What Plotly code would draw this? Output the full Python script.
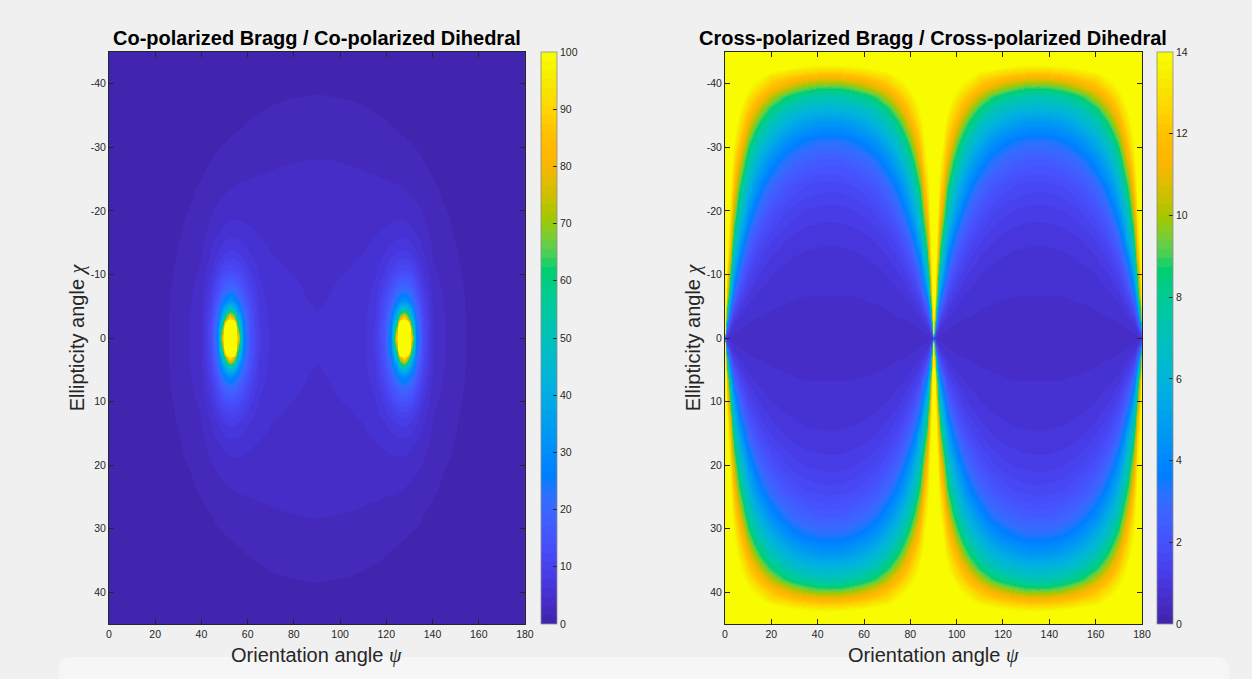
import numpy as np
import plotly.graph_objects as go

# ---------------- colormap (MATLAB parula, 64 levels) ----------------
PARULA64 = [
    (62,38,168),(64,42,180),(66,46,192),(67,50,203),(69,55,213),(70,60,222),(71,65,229),(71,71,235),
    (72,77,240),(72,82,244),(71,88,248),(70,94,251),(69,99,253),(66,105,254),(62,111,255),(56,117,254),
    (50,124,252),(47,129,250),(46,135,247),(45,140,243),(43,145,239),(39,150,235),(37,155,232),(35,160,229),
    (32,165,227),(28,169,223),(24,173,219),(18,177,214),(8,181,208),(1,184,202),(2,186,195),(11,189,189),
    (25,191,182),(36,193,174),(44,196,167),(49,198,159),(55,200,151),(63,202,142),(74,203,132),(87,204,122),
    (100,205,111),(114,205,100),(129,204,89),(143,203,78),(157,201,67),(171,199,57),(185,196,49),(197,194,42),
    (209,191,39),(220,189,41),(230,187,45),(240,186,54),(248,186,61),(254,190,60),(254,195,56),(254,201,52),
    (252,207,48),(250,214,45),(247,220,42),(245,227,39),(245,233,36),(246,239,32),(247,245,27),(249,251,21),
]

# ---------------- left panel: co-pol ratio, one quadrant (psi 0..90, chi 0..45) ----------------
psi_left_q = [0, 12, 22, 28, 34, 40, 44, 47, 49.5, 51, 52.5, 54, 55.5, 58, 61, 65, 70, 76, 83, 90]
chi_left_q = [0, 1.5, 3, 4.5, 6, 8, 10.5, 13, 17, 22, 28, 33, 38, 45]
co_ratio_q = [
    [0.85, 0.92, 1.08, 1.90, 3.00, 4.60, 12.0, 28.5, 92.1, 300, 300, 300, 92.5, 30.1, 14.9, 8.13, 5.71, 5.10, 4.85, 4.75],
    [0.85, 0.92, 1.08, 1.89, 2.99, 4.56, 11.8, 27.2, 72.0, 180, 300, 180, 72.0, 28.7, 14.64, 8.06, 5.70, 5.09, 4.85, 4.74],
    [0.85, 0.92, 1.08, 1.87, 2.96, 4.45, 11.2, 23.9, 50.0, 80.0, 98.0, 80.0, 50.0, 25.3, 13.93, 7.85, 5.64, 5.06, 4.83, 4.72],
    [0.85, 0.92, 1.07, 1.84, 2.91, 4.28, 10.4, 20.0, 34.0, 45.0, 50.0, 45.0, 34.0, 21.2, 12.92, 7.55, 5.57, 5.01, 4.80, 4.67],
    [0.85, 0.92, 1.06, 1.80, 2.84, 4.06, 9.5, 16.5, 24.5, 28.5, 30.5, 28.5, 24.8, 17.5, 11.79, 7.17, 5.45, 4.94, 4.76, 4.60],
    [0.85, 0.92, 1.06, 1.71, 2.72, 3.75, 7.8, 12.8, 17.0, 18.9, 19.7, 19.1, 17.4, 13.7, 9.73, 6.62, 5.28, 4.85, 4.69, 4.50],
    [0.85, 0.92, 1.05, 1.60, 2.53, 3.35, 6.1, 9.2, 11.6, 12.4, 12.7, 12.6, 12.0, 10.05, 7.70, 5.95, 5.02, 4.72, 4.58, 4.35],
    [0.85, 0.92, 1.03, 1.45, 2.32, 3.00, 4.9, 6.6, 7.82, 8.31, 8.54, 8.49, 8.18, 7.34, 6.29, 5.33, 4.73, 4.52, 4.43, 4.20],
    [0.85, 0.91, 1.01, 1.14, 1.92, 2.55, 3.6, 4.35, 4.88, 5.09, 5.22, 5.27, 5.24, 5.08, 4.80, 4.49, 4.25, 4.15, 4.10, 3.95],
    [0.85, 0.89, 0.97, 1.07, 1.35, 1.95, 2.55, 2.95, 3.22, 3.35, 3.45, 3.53, 3.58, 3.63, 3.63, 3.63, 3.60, 3.65, 3.65, 3.60],
    [0.85, 0.87, 0.94, 0.99, 1.08, 1.19, 1.55, 1.80, 2.00, 2.11, 2.20, 2.29, 2.36, 2.46, 2.62, 2.80, 2.95, 3.05, 3.12, 3.15],
    [0.85, 0.86, 0.91, 0.95, 1.00, 1.06, 1.10, 1.12, 1.13, 1.23, 1.32, 1.41, 1.48, 1.60, 1.78, 1.98, 2.20, 2.35, 2.45, 2.50],
    [0.85, 0.85, 0.89, 0.92, 0.95, 0.98, 1.00, 1.01, 1.02, 1.02, 1.02, 1.02, 1.02, 1.01, 1.00, 1.05, 1.30, 1.45, 1.55, 1.60],
    [0.85, 0.84, 0.87, 0.88, 0.90, 0.92, 0.93, 0.93, 0.93, 0.93, 0.93, 0.93, 0.93, 0.93, 0.93, 0.95, 0.93, 0.91, 0.90, 0.90],
]

# ---------------- right panel: cross-pol ratio, one quadrant (psi 0..45, chi 0..45) ----------------
psi_right_q = [0, 0.5, 1, 2, 3, 4, 6, 8, 10, 13, 16, 20, 25, 30, 35, 40, 45]
chi_right_q = [0, 1, 2, 3, 5, 7, 10, 13, 16, 20, 24, 28, 31, 34, 36, 38, 39.5, 41, 42.5, 44, 45]
cross_ratio_q = [
    [0.6, 0.6, 0.6, 0.6, 0.6, 0.6, 0.6, 0.6, 0.6, 0.6, 0.6, 0.6, 0.6, 0.6, 0.6, 0.6, 0.6],
    [15.5, 3.49, 1.44, 0.82, 0.70, 0.66, 0.63, 0.61, 0.61, 0.61, 0.60, 0.60, 0.60, 0.60, 0.60, 0.60, 0.60],
    [15.5, 7.31, 3.49, 1.45, 0.99, 0.82, 0.70, 0.66, 0.64, 0.62, 0.62, 0.61, 0.61, 0.61, 0.61, 0.60, 0.60],
    [15.5, 10.17, 5.85, 2.39, 1.45, 1.09, 0.83, 0.73, 0.68, 0.65, 0.64, 0.62, 0.62, 0.61, 0.61, 0.61, 0.61],
    [15.5, 12.83, 8.82, 4.73, 2.77, 1.91, 1.22, 0.96, 0.83, 0.74, 0.70, 0.67, 0.65, 0.64, 0.63, 0.63, 0.63],
    [15.5, 13.95, 11.33, 6.73, 4.39, 3.01, 1.78, 1.30, 1.06, 0.88, 0.80, 0.73, 0.69, 0.67, 0.66, 0.66, 0.66],
    [15.5, 14.68, 12.93, 9.06, 6.60, 4.94, 2.91, 2.01, 1.55, 1.19, 1.01, 0.88, 0.80, 0.76, 0.73, 0.72, 0.72],
    [15.5, 14.99, 13.88, 11.20, 8.31, 6.63, 4.30, 2.96, 2.22, 1.63, 1.32, 1.10, 0.95, 0.88, 0.84, 0.82, 0.81],
    [15.5, 15.18, 14.43, 12.38, 10.11, 8.06, 5.84, 4.11, 3.09, 2.22, 1.75, 1.40, 1.17, 1.05, 0.98, 0.95, 0.94],
    [15.5, 15.32, 14.85, 13.41, 11.91, 10.18, 7.35, 5.92, 4.55, 3.29, 2.55, 1.98, 1.60, 1.39, 1.28, 1.22, 1.20],
    [15.5, 15.40, 15.10, 14.20, 12.99, 11.88, 9.25, 7.34, 6.25, 4.74, 3.71, 2.86, 2.27, 1.94, 1.75, 1.66, 1.63],
    [15.5, 15.45, 15.27, 14.70, 13.92, 13.00, 11.32, 9.30, 7.83, 6.45, 5.36, 4.21, 3.33, 2.83, 2.54, 2.38, 2.34],
    [15.5, 15.47, 15.35, 14.96, 14.45, 13.78, 12.42, 11.04, 9.48, 7.76, 6.69, 5.66, 4.56, 3.89, 3.49, 3.28, 3.21],
    [15.5, 15.48, 15.42, 15.18, 14.83, 14.42, 13.37, 12.39, 11.40, 9.68, 8.32, 7.10, 6.23, 5.50, 4.98, 4.70, 4.60],
    [15.5, 15.5, 15.45, 15.28, 15.03, 14.76, 14.04, 13.14, 12.40, 11.22, 9.89, 8.48, 7.33, 6.70, 6.29, 6.08, 6.00],
    [15.5, 15.5, 15.47, 15.38, 15.22, 15.02, 14.56, 13.98, 13.32, 12.47, 11.62, 10.42, 9.09, 8.26, 7.73, 7.42, 7.32],
    [15.5, 15.5, 15.48, 15.42, 15.33, 15.20, 14.88, 14.51, 14.07, 13.32, 12.72, 11.89, 10.93, 10.07, 9.45, 9.07, 8.95],
    [15.5, 15.5, 15.5, 15.47, 15.42, 15.35, 15.15, 14.92, 14.68, 14.24, 13.77, 12.92, 12.53, 12.01, 11.62, 11.39, 11.31],
    [15.5, 15.5, 15.5, 15.48, 15.47, 15.43, 15.37, 15.27, 15.13, 14.92, 14.72, 14.42, 14.05, 13.71, 13.44, 13.28, 13.21],
    [15.5, 15.5, 15.5, 15.5, 15.5, 15.48, 15.48, 15.47, 15.43, 15.40, 15.37, 15.30, 15.20, 15.13, 15.07, 15.02, 15.00],
    [15.5, 15.5, 15.5, 15.5, 15.5, 15.5, 15.5, 15.5, 15.5, 15.5, 15.5, 15.5, 15.5, 15.5, 15.5, 15.5, 15.5],
]

x_ticks = [0, 20, 40, 60, 80, 100, 120, 140, 160, 180]
y_ticks = [-40, -30, -20, -10, 0, 10, 20, 30, 40]
y_ticktext = ["-40", "-30", "-20", "-10", "0", "10", "20", "30", "40"]
left_cbar_ticks = [0, 10, 20, 30, 40, 50, 60, 70, 80, 90, 100]
right_cbar_ticks = [0, 2, 4, 6, 8, 10, 12, 14]
title_left = "Co-polarized Bragg / Co-polarized Dihedral"
title_right = "Cross-polarized Bragg / Cross-polarized Dihedral"
SERIF_I = "<i><span style=\"font-family:'Liberation Serif','DejaVu Serif',serif\">%s</span></i>"
xlabel = "Orientation angle " + SERIF_I % "ψ"
ylabel = "Ellipticity angle " + SERIF_I % "χ"

# ---------------- build full tables by mirror symmetry ----------------
def full_chi(chi_q):
    m = len(chi_q)
    chi = [-c for c in reversed(chi_q[1:])] + list(chi_q)
    rows = list(range(m - 1, 0, -1)) + list(range(m))
    return chi, rows

zl = np.array(co_ratio_q, dtype=float)
nl = len(psi_left_q)
psi_left = list(psi_left_q) + [180 - p for p in reversed(psi_left_q[:-1])]
cols_left = list(range(nl)) + list(range(nl - 2, -1, -1))
chi_left, rows_left = full_chi(chi_left_q)
z_left = zl[np.ix_(rows_left, cols_left)]

zr = np.array(cross_ratio_q, dtype=float)
nr = len(psi_right_q)
q = psi_right_q
psi_right = (list(q) + [90 - v for v in reversed(q[:-1])] + [90 + v for v in q[1:]]
             + [180 - v for v in reversed(q[:-1])])
cols_right = (list(range(nr)) + list(range(nr - 2, -1, -1)) + list(range(1, nr))
              + list(range(nr - 2, -1, -1)))
chi_right, rows_right = full_chi(chi_right_q)
z_right = zr[np.ix_(rows_right, cols_right)]

# ---------------- colours: parula as it appears on the wide-gamut screenshot ----------------
def p3_to_srgb(c):
    lin = []
    for v in c:
        v = v / 255.0
        lin.append(v / 12.92 if v <= 0.04045 else ((v + 0.055) / 1.055) ** 2.4)
    M = [[1.2249, -0.2247, 0.0], [-0.0420, 1.0419, 0.0], [-0.0197, -0.0786, 1.0979]]
    out = []
    for row in M:
        x = sum(a * b for a, b in zip(row, lin))
        x = min(max(x, 0.0), 1.0)
        s = 12.92 * x if x <= 0.0031308 else 1.055 * x ** (1 / 2.4) - 0.055
        out.append(int(round(s * 255)))
    return tuple(out)

cscale = []
N = len(PARULA64)
for i, c in enumerate(PARULA64):
    col = "rgb(%d,%d,%d)" % p3_to_srgb(c)
    cscale.append([i / N, col])
    cscale.append([(i + 1) / N, col])

# ---------------- geometry (pixels -> paper) ----------------
W, H = 1252, 679
def px(x):
    return x / W
def py(y):
    return 1 - y / H

top, bot = 52, 624
L0, L1 = 107, 527
R0, R1 = 729, 1150
FONT = "Liberation Sans, Arial, Helvetica, sans-serif"
INK = "#262626"

fig = go.Figure()

cb_common = dict(
    xanchor="left", xpad=0, ypad=0,
    y=(py(top) + py(bot)) / 2, yanchor="middle",
    len=(bot - top) / H, lenmode="fraction",
    thickness=16, thicknessmode="pixels",
    ticks="inside", ticklen=4, tickcolor=INK,
    outlinewidth=0.8, outlinecolor="#8c8c8c",
    tickfont=dict(family=FONT, size=10.5, color=INK),
)

fig.add_trace(go.Heatmap(
    x=psi_left, y=chi_left, z=z_left,
    zmin=0, zmax=100, colorscale=cscale, zsmooth="best",
    xaxis="x", yaxis="y",
    colorbar=dict(x=px(543), tickvals=left_cbar_ticks, **cb_common),
    hovertemplate="ψ=%{x}<br>χ=%{y}<br>%{z:.2f}<extra></extra>",
))
fig.add_trace(go.Heatmap(
    x=psi_right, y=chi_right, z=z_right,
    zmin=0, zmax=14, colorscale=cscale, zsmooth="best",
    xaxis="x2", yaxis="y2",
    colorbar=dict(x=px(1165), tickvals=right_cbar_ticks, **cb_common),
    hovertemplate="ψ=%{x}<br>χ=%{y}<br>%{z:.2f}<extra></extra>",
))

ax_common = dict(
    ticks="inside", ticklen=5, tickcolor=INK, tickwidth=1,
    showline=True, linecolor=INK, linewidth=1, mirror="allticks",
    showgrid=False, zeroline=False,
    tickfont=dict(family=FONT, size=10.5, color=INK),
)

fig.update_layout(
    width=W, height=H,
    margin=dict(l=0, r=0, t=0, b=0),
    paper_bgcolor="#f0f0f0", plot_bgcolor="#f0f0f0",
    showlegend=False,
    xaxis=dict(domain=[px(L0), px(L1)], range=[0, 180], tickvals=x_ticks, anchor="y", **ax_common),
    yaxis=dict(domain=[py(bot), py(top)], range=[45, -45], tickvals=y_ticks, ticktext=y_ticktext,
               anchor="x", **ax_common),
    xaxis2=dict(domain=[px(R0), px(R1)], range=[0, 180], tickvals=x_ticks, anchor="y2", **ax_common),
    yaxis2=dict(domain=[py(bot), py(top)], range=[45, -45], tickvals=y_ticks, ticktext=y_ticktext,
                anchor="x2", **ax_common),
)

# lighter strip at the bottom of the window (as in the screenshot)
x0, x1, y0, y1 = px(56), px(1238), py(657), py(700)
rx, ry = 14 / W, 14 / H
path = ("M %f,%f L %f,%f Q %f,%f %f,%f L %f,%f Q %f,%f %f,%f L %f,%f Z" % (
    x0, y1, x0, y0 - ry, x0, y0, x0 + rx, y0, x1 - rx, y0, x1, y0, x1, y0 - ry, x1, y1))
fig.add_shape(type="path", path=path, xref="paper", yref="paper",
              fillcolor="#f6f6f6", line=dict(width=0), layer="below")

annots = []
for cx, t in [((L0 + L1) / 2, title_left), ((R0 + R1) / 2, title_right)]:
    annots.append(dict(x=px(cx), y=py(38), xref="paper", yref="paper", text="<b>%s</b>" % t,
                       showarrow=False, xanchor="center", yanchor="middle",
                       font=dict(family=FONT, size=20, color="#000000")))
for cx in [(L0 + L1) / 2, (R0 + R1) / 2]:
    annots.append(dict(x=px(cx), y=py(655), xref="paper", yref="paper", text=xlabel,
                       showarrow=False, xanchor="center", yanchor="middle",
                       font=dict(family=FONT, size=20, color=INK)))
for cx in [75, 697]:
    annots.append(dict(x=px(cx), y=py(337), xref="paper", yref="paper", text=ylabel,
                       showarrow=False, xanchor="center", yanchor="middle", textangle=-90,
                       font=dict(family=FONT, size=20, color=INK)))
fig.update_layout(annotations=annots)

fig.write_html("out.html",
               config={"displayModeBar": False},
               post_script="document.body.style.margin='0';document.body.style.overflow='hidden';")
